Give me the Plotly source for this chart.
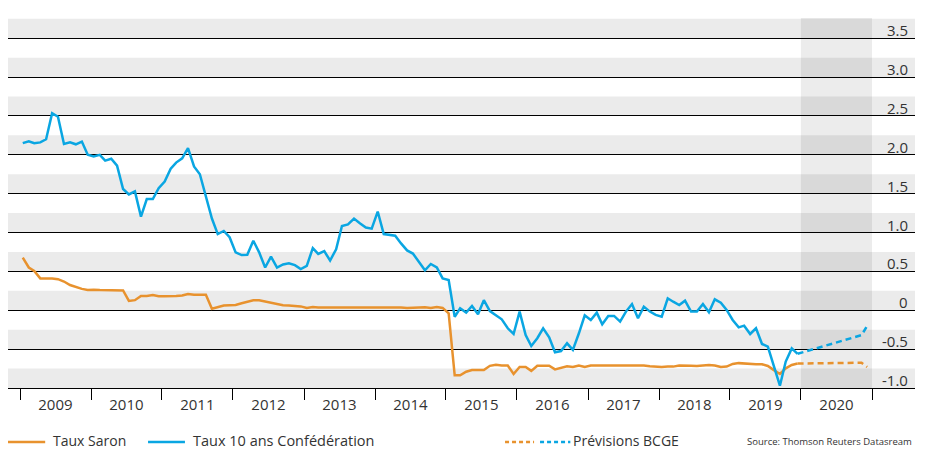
import pandas as pd
import plotly.graph_objects as go

# ---------------- data ----------------
# monthly observations, Jan 2009 .. Dec 2019
taux_10ans = [
    2.15, 2.175, 2.15, 2.16, 2.20, 2.535, 2.49, 2.14, 2.16, 2.135, 2.17, 2.00,
    1.98, 2.00, 1.925, 1.95, 1.86, 1.56, 1.49, 1.53, 1.205, 1.43, 1.43, 1.57,
    1.655, 1.82, 1.90, 1.955, 2.085, 1.85, 1.75, 1.46, 1.18, 0.98, 1.02, 0.94,
    0.745, 0.71, 0.715, 0.895, 0.745, 0.55, 0.69, 0.55, 0.59, 0.605, 0.58, 0.53,
    0.57, 0.80, 0.725, 0.76, 0.64, 0.785, 1.085, 1.105, 1.18, 1.12, 1.065, 1.05,
    1.27, 0.98, 0.97, 0.96, 0.86, 0.77, 0.73, 0.625, 0.515, 0.595, 0.55, 0.41,
    0.39, -0.085, 0.025, -0.03, 0.055, -0.05, 0.13, -0.01, -0.07, -0.116, -0.232, -0.305,
    -0.018, -0.318, -0.46, -0.36, -0.232, -0.348, -0.54, -0.524, -0.425, -0.51, -0.296, -0.065,
    -0.125, -0.03, -0.18, -0.073, -0.073, -0.146, -0.017, 0.08, -0.103, 0.047, -0.017, -0.06,
    -0.082, 0.154, 0.11, 0.068, 0.124, -0.017, -0.017, 0.081, -0.026, 0.141, 0.098, 0.004,
    -0.125, -0.22, -0.198, -0.305, -0.232, -0.434, -0.468, -0.725, -0.97, -0.66, -0.49, -0.56,
]
taux_saron = [
    0.677, 0.55, 0.505, 0.41, 0.41, 0.41, 0.40, 0.37, 0.325, 0.30, 0.275, 0.26,
    0.265, 0.26, 0.26, 0.26, 0.26, 0.255, 0.12, 0.13, 0.185, 0.185, 0.195, 0.18,
    0.18, 0.18, 0.185, 0.19, 0.21, 0.20, 0.20, 0.20, 0.02, 0.04, 0.06, 0.065,
    0.068, 0.09, 0.107, 0.128, 0.128, 0.11, 0.098, 0.077, 0.064, 0.06, 0.055, 0.05,
    0.03, 0.042, 0.035, 0.035, 0.04, 0.04, 0.042, 0.042, 0.042, 0.042, 0.042, 0.04,
    0.04, 0.04, 0.04, 0.04, 0.035, 0.03, 0.035, 0.042, 0.04, 0.03, 0.042, 0.03,
    -0.04, -0.837, -0.837, -0.79, -0.77, -0.77, -0.77, -0.715, -0.70, -0.71, -0.71, -0.82,
    -0.73, -0.73, -0.78, -0.713, -0.713, -0.713, -0.76, -0.74, -0.72, -0.73, -0.71, -0.73,
    -0.71, -0.71, -0.71, -0.71, -0.71, -0.71, -0.71, -0.71, -0.71, -0.71, -0.72, -0.725,
    -0.73, -0.725, -0.725, -0.71, -0.708, -0.715, -0.717, -0.71, -0.704, -0.71, -0.73, -0.725,
    -0.69, -0.68, -0.685, -0.695, -0.695, -0.695, -0.717, -0.77, -0.82, -0.747, -0.704, -0.685,
]
assert len(taux_10ans) == len(taux_saron) == 132
dates = pd.date_range("2009-01-01", periods=len(taux_10ans), freq="MS") + pd.Timedelta(days=14)

# BCGE forecasts
prev_dates = ["2019-12-15", "2020-11-08", "2020-12-07"]
prev_10ans = [-0.56, -0.32, -0.20]
prev_saron = [-0.685, -0.675, -0.73]

years = list(range(2009, 2021))
year_labels = [str(y) for y in years]
y_ticks = [-1.0, -0.5, 0, 0.5, 1.0, 1.5, 2.0, 2.5, 3.0, 3.5]
y_labels = ["-1.0", "-0.5", "0", "0.5", "1.0", "1.5", "2.0", "2.5", "3.0", "3.5"]
forecast_period = ["2020-01-01", "2021-01-01"]

ORANGE = "#E8922E"
BLUE = "#0AA6E2"
TXT = "#333333"
FONT = "Open Sans"

fig = go.Figure()
fig.add_trace(go.Scatter(x=dates, y=taux_saron, mode="lines", name="Taux Saron",
                         line=dict(color=ORANGE, width=2.5)))
fig.add_trace(go.Scatter(x=dates, y=taux_10ans, mode="lines", name="Taux 10 ans Confédération",
                         line=dict(color=BLUE, width=2.5)))
fig.add_trace(go.Scatter(x=prev_dates, y=prev_saron, mode="lines", name="Prévisions Saron",
                         line=dict(color=ORANGE, width=2.5, dash="6px,4px")))
fig.add_trace(go.Scatter(x=prev_dates, y=prev_10ans, mode="lines", name="Prévisions 10 ans",
                         line=dict(color=BLUE, width=2.5, dash="6px,4px")))

shapes = []
# alternating grey bands above each gridline
for v in y_ticks:
    shapes.append(dict(type="rect", xref="paper", yref="y", x0=0, x1=1, y0=v, y1=v + 0.25,
                       fillcolor="#EBEBEB", line=dict(width=0), layer="below"))
# forecast period shading
shapes.append(dict(type="rect", xref="x", yref="paper", x0=forecast_period[0], x1=forecast_period[1],
                   y0=0, y1=1, fillcolor="rgba(0,0,0,0.075)", line=dict(width=0), layer="below"))

# legend swatches (paper coords)
LY = -0.146
shapes.append(dict(type="line", xref="paper", yref="paper", x0=0.0, x1=0.041, y0=LY, y1=LY,
                   line=dict(color=ORANGE, width=2.5)))
shapes.append(dict(type="line", xref="paper", yref="paper", x0=0.1544, x1=0.1951, y0=LY, y1=LY,
                   line=dict(color=BLUE, width=2.5)))
shapes.append(dict(type="line", xref="paper", yref="paper", x0=0.548, x1=0.580, y0=LY, y1=LY,
                   line=dict(color=ORANGE, width=2.5, dash="4px,3px")))
shapes.append(dict(type="line", xref="paper", yref="paper", x0=0.5866, x1=0.620, y0=LY, y1=LY,
                   line=dict(color=BLUE, width=2.5, dash="4px,3px")))

annotations = [
    dict(text="Taux Saron", x=0.0475, y=LY, xref="paper", yref="paper", xanchor="left",
         yanchor="middle", yshift=2, showarrow=False, font=dict(size=14, color=TXT, family=FONT)),
    dict(text="Taux 10 ans Confédération", x=0.2015, y=LY, xref="paper", yref="paper",
         xanchor="left", yanchor="middle", yshift=2, showarrow=False,
         font=dict(size=14.5, color=TXT, family=FONT)),
    dict(text="Prévisions BCGE", x=0.6205, y=LY, xref="paper", yref="paper", xanchor="left",
         yanchor="middle", yshift=2, showarrow=False, font=dict(size=14, color=TXT, family=FONT)),
    dict(text="Source: Thomson Reuters Datasream", x=0.999, y=LY, xref="paper", yref="paper",
         xanchor="right", yanchor="middle", yshift=1, showarrow=False,
         font=dict(size=9.5, color=TXT, family=FONT)),
]
# value labels sitting just above each gridline, at the right edge
for v, lab in zip(y_ticks, y_labels):
    annotations.append(dict(text=lab, x=1, y=v, xref="paper", yref="y", xanchor="right",
                            yanchor="middle", xshift=-5, yshift=8, showarrow=False,
                            font=dict(size=15, color=TXT, family=FONT)))

fig.update_layout(
    width=930, height=450,
    margin=dict(l=8, r=15, t=18, b=62),
    paper_bgcolor="white", plot_bgcolor="white",
    showlegend=False,
    font=dict(family=FONT, color=TXT, size=15),
    shapes=shapes, annotations=annotations,
    xaxis=dict(
        type="date",
        range=["2008-10-31", "2021-08-10"],
        tickmode="array",
        tickvals=[f"{y}-07-02" for y in years],
        ticktext=year_labels,
        ticks="", ticklabelstandoff=3,
        showgrid=False, zeroline=False,
        showline=True, linecolor="black", linewidth=1,
        tickfont=dict(size=15, color=TXT, family=FONT),
        minor=dict(tickmode="array", tickvals=[f"{y}-01-01" for y in years + [2021]],
                   ticks="outside", ticklen=11, tickwidth=1, tickcolor="black", showgrid=False),
    ),
    yaxis=dict(
        range=[-1.0, 3.76],
        tickmode="array", tickvals=y_ticks,
        showticklabels=False,
        ticks="", showgrid=True, gridcolor="black", gridwidth=1,
        zeroline=False, showline=False,
    ),
)

fig.write_html("out.html", config={"displayModeBar": False},
               post_script="document.body.style.margin='0';")
